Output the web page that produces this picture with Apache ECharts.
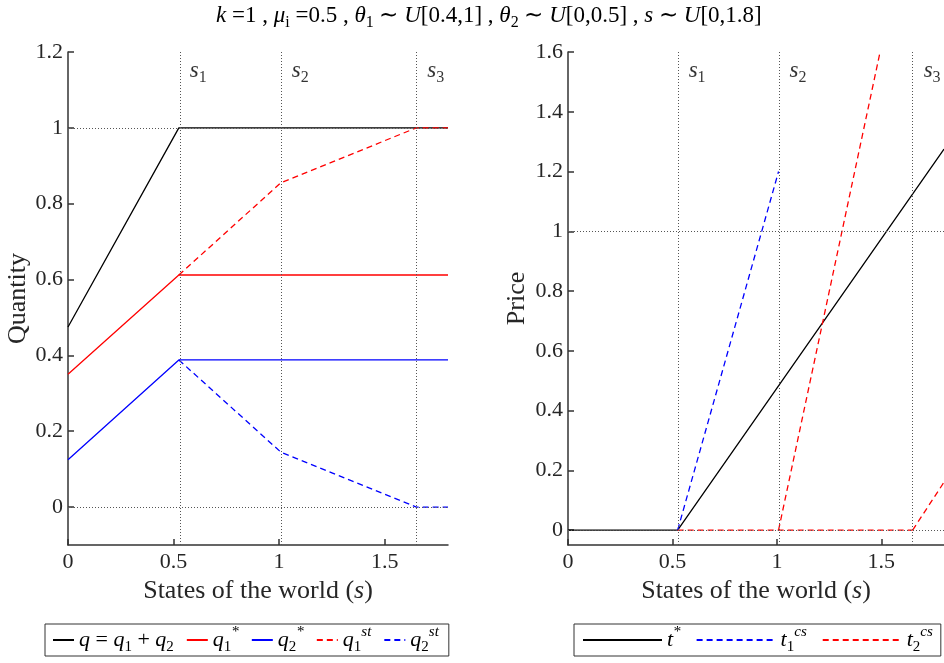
<!DOCTYPE html>
<html><head><meta charset="utf-8">
<script src="https://cdn.jsdelivr.net/npm/echarts@6/dist/echarts.min.js"></script>
<style>html,body{margin:0;padding:0;background:#fff}#c{width:944px;height:663px}</style>
</head><body><div id="c"></div>
<script>
// ---- data ----
const thresholds = [0.525, 1.008, 1.65];
const thresholdLabels = ['1', '2', '3'];
const xTicks = [0, 0.5, 1, 1.5];
const qTicks = [0, 0.2, 0.4, 0.6, 0.8, 1, 1.2];
const pTicks = [0, 0.2, 0.4, 0.6, 0.8, 1, 1.2, 1.4, 1.6];
const refLevels = [0, 1];

const qTotalS = [0, 0.525, 1.8],          qTotalV = [0.475, 1, 1];
const q1StarS = [0, 0.525, 1.8],          q1StarV = [0.35, 0.612, 0.612];
const q2StarS = [0, 0.525, 1.8],          q2StarV = [0.125, 0.388, 0.388];
const q1stS   = [0.525, 1.008, 1.65, 1.8], q1stV  = [0.612, 0.855, 1, 1];
const q2stS   = [0.525, 1.008, 1.65, 1.8], q2stV  = [0.388, 0.145, 0, 0];

const tStarS = [0, 0.525, 1.8],   tStarV = [0, 0, 1.275];
const t1csS  = [0.525, 1.008],    t1csV  = [0, 1.2];
const t2csZeroS  = [0.525, 1.65], t2csZeroV  = [0, 0];
const t2csRiseAS = [1.008, 1.494], t2csRiseAV = [0, 1.6];
const t2csRiseBS = [1.65, 1.8],   t2csRiseBV = [0, 0.16];

// ---- helpers ----
const FF = 'Liberation Serif';
const TXT = '#262626';
const zip = (s, v) => s.map((x, i) => [x, v[i]]);
const joinSegs = (...segs) => segs.reduce((acc, seg, i) => i ? acc.concat([['-', '-']], seg) : acc.concat(seg), []);

const rich = (fs) => ({
  i:   {fontFamily: FF, fontStyle: 'italic', fontSize: fs, color: '#000', lineHeight: fs + 8},
  r:   {fontFamily: FF, fontSize: fs, color: '#000', lineHeight: fs + 8},
  sub: {fontFamily: FF, fontStyle: 'normal', fontSize: Math.round(fs * 0.68), color: '#000', lineHeight: 10, verticalAlign: 'bottom'},
  sup: {fontFamily: FF, fontStyle: 'italic', fontSize: Math.round(fs * 0.68), color: '#000', lineHeight: 10, verticalAlign: 'top'}
});

function xAxisCfg(g) {
  return {
    type: 'value', gridIndex: g, min: 0, max: 1.8,
    name: 'States of the world ({i|s})', nameLocation: 'middle', nameGap: 22,
    nameTextStyle: {fontFamily: FF, fontSize: 26, color: TXT, rich: {i: {fontFamily: FF, fontStyle: 'italic', fontSize: 26, color: TXT}}},
    axisLine: {show: true, onZero: false, lineStyle: {color: '#333', width: 1.5}},
    axisTick: {show: true, inside: true, length: 6, customValues: xTicks, lineStyle: {color: '#333', width: 1.5}},
    axisLabel: {customValues: xTicks, fontFamily: FF, fontSize: 22, color: TXT, margin: 6, formatter: v => String(v)},
    splitLine: {show: false}
  };
}
function yAxisCfg(g, min, max, ticks, name, gap) {
  return {
    type: 'value', gridIndex: g, min, max,
    name, nameLocation: 'middle', nameGap: gap, nameRotate: 90,
    nameTextStyle: {fontFamily: FF, fontSize: 26, color: TXT},
    axisLine: {show: true, onZero: false, lineStyle: {color: '#333', width: 1.5}},
    axisTick: {show: true, inside: true, length: 6, customValues: ticks, lineStyle: {color: '#333', width: 1.5}},
    axisLabel: {customValues: ticks, fontFamily: FF, fontSize: 22, color: TXT, margin: 5, formatter: v => String(v)},
    splitLine: {show: false}
  };
}
function refSeries(g) {
  return {
    type: 'line', xAxisIndex: g, yAxisIndex: g, data: [], z: 1, silent: true,
    markLine: {
      silent: true, symbol: 'none', animation: false,
      label: {show: false},
      lineStyle: {type: [1, 2], color: '#555', width: 1},
      data: thresholds.map(s => ({xAxis: s})).concat(refLevels.map(v => ({yAxis: v})))
    }
  };
}
function labelSeries(g, yTop) {
  return {
    type: 'scatter', xAxisIndex: g, yAxisIndex: g, symbolSize: 0, clip: false, silent: true, z: 5,
    data: thresholds.map(s => [s, yTop]),
    label: {
      show: true, position: [11, 3],
      formatter: p => '{i|s}{sub|' + thresholdLabels[p.dataIndex] + '}',
      rich: rich(23)
    }
  };
}
function line(name, g, data, color, dashed) {
  return {
    name, type: 'line', xAxisIndex: g, yAxisIndex: g, data, symbol: 'none', showSymbol: false,
    z: 3, connectNulls: false,
    lineStyle: {color, width: 1.3, type: dashed ? [6, 4] : 'solid'},
    itemStyle: {color}
  };
}

const legendLabels = {
  q: '{i|q} = {i|q}{sub|1} + {i|q}{sub|2}',
  q1s: '{i|q}{sub|1}{sup|*}',
  q2s: '{i|q}{sub|2}{sup|*}',
  q1st: '{i|q}{sub|1}{sup|st}',
  q2st: '{i|q}{sub|2}{sup|st}',
  ts: '{i|t}{sup|*}',
  t1: '{i|t}{sub|1}{sup|cs}',
  t2: '{i|t}{sub|2}{sup|cs}'
};
const legendText = {fontFamily: FF, fontSize: 22, color: '#000', lineHeight: 30, rich: rich(22)};

const option = {
  animation: false,
  backgroundColor: '#fff',
  title: {
    text: '{i|k} =1 , {i|μ}{sub|i} =0.5 , {i|θ}{sub|1} ∼ {i|U}[0.4,1] , {i|θ}{sub|2} ∼ {i|U}[0,0.5] , {i|s} ∼ {i|U}[0,1.8]',
    left: 211, top: 0, padding: [0, 5],
    textStyle: {fontFamily: FF, fontSize: 23, fontWeight: 'normal', color: '#000', lineHeight: 31, rich: rich(23)}
  },
  grid: [
    {left: 68, right: 496, top: 52, bottom: 118},
    {left: 568, width: 381, top: 52, bottom: 118}
  ],
  xAxis: [xAxisCfg(0), xAxisCfg(1)],
  yAxis: [
    yAxisCfg(0, -0.1, 1.2, qTicks, 'Quantity', 37),
    yAxisCfg(1, -0.05, 1.6, pTicks, 'Price', 38)
  ],
  legend: [
    {
      left: 45, top: 624, data: ['q', 'q1s', 'q2s', 'q1st', 'q2st'],
      itemWidth: 21, itemHeight: 10, itemGap: 12, padding: [1, 10, 1, 7],
      itemStyle: {opacity: 0},
      borderColor: '#333', borderWidth: 1, formatter: n => legendLabels[n],
      textStyle: legendText
    },
    {
      left: 574, top: 624, data: ['ts', 't1', 't2'],
      itemWidth: 79, itemHeight: 10, itemGap: 15, padding: [1, 8, 1, 8],
      itemStyle: {opacity: 0},
      borderColor: '#333', borderWidth: 1, formatter: n => legendLabels[n],
      textStyle: legendText
    }
  ],
  series: [
    refSeries(0), refSeries(1),
    labelSeries(0, 1.2), labelSeries(1, 1.6),
    line('q', 0, zip(qTotalS, qTotalV), '#000', false),
    line('q1s', 0, zip(q1StarS, q1StarV), '#ff0000', false),
    line('q2s', 0, zip(q2StarS, q2StarV), '#0000ff', false),
    line('q1st', 0, zip(q1stS, q1stV), '#ff0000', true),
    line('q2st', 0, zip(q2stS, q2stV), '#0000ff', true),
    line('ts', 1, zip(tStarS, tStarV), '#000', false),
    line('t1', 1, zip(t1csS, t1csV), '#0000ff', true),
    line('t2', 1, joinSegs(zip(t2csZeroS, t2csZeroV), zip(t2csRiseAS, t2csRiseAV), zip(t2csRiseBS, t2csRiseBV)), '#ff0000', true)
  ]
};
echarts.init(document.getElementById('c')).setOption(option);
</script></body></html>
